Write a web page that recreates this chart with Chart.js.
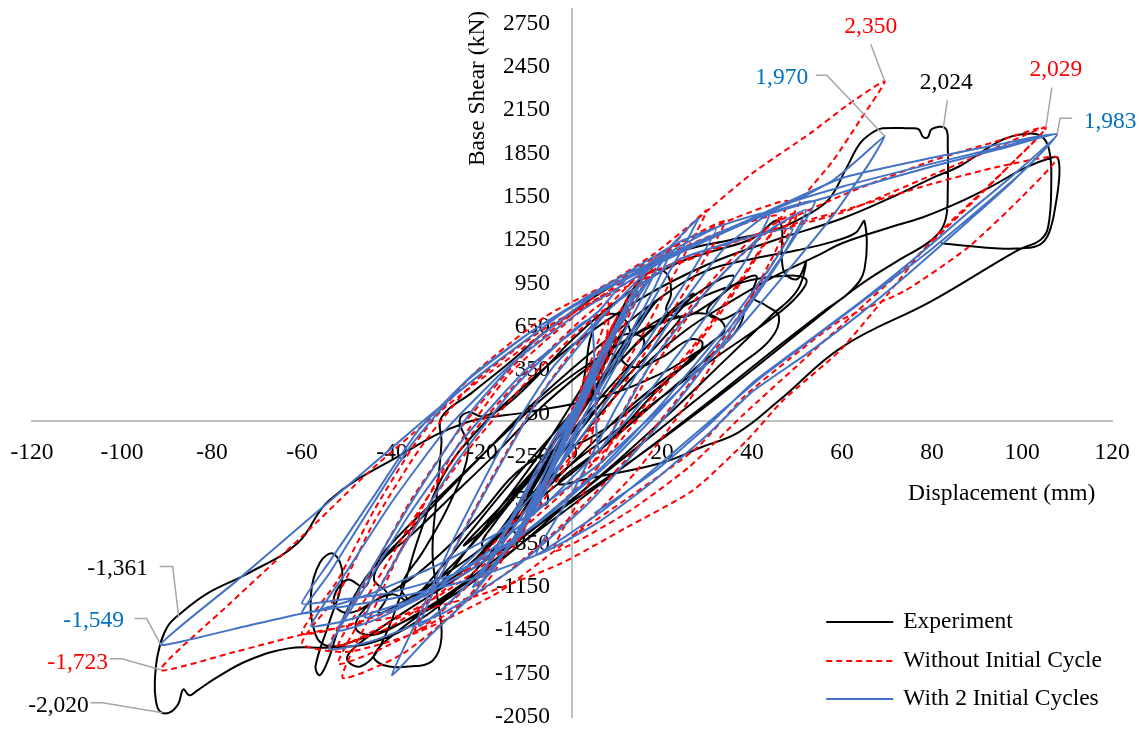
<!DOCTYPE html>
<html>
<head>
<meta charset="utf-8">
<script src="https://cdn.jsdelivr.net/npm/chart.js@4.4.1/dist/chart.umd.min.js"></script>
<style>
  body { margin: 0; background: #fff; }
  canvas { display: block; }
</style>
</head>
<body>
<canvas id="myChart" width="1139" height="733"></canvas>
<script>
// tick values
const xTicks = [-120, -100, -80, -60, -40, -20, 0, 20, 40, 60, 80, 100, 120];
const yTicks = [-2050, -1750, -1450, -1150, -850, -550, -250, 50, 350, 650, 950, 1250, 1550, 1850, 2150, 2450, 2750];

const seriesNames = ['Experiment', 'Without Initial Cycle', 'With 2 Initial Cycles'];

// [displacement mm, base shear kN]
const experiment = [
  [0, 0], [2, 140], [5, 330], [7, 430], [6, 380], [2, 120], [-2, -140], [-6, -380], [-8, -480], [-7, -430], [-3, -200],
  [2, 100], [7, 380], [11, 600], [12, 650], [10, 560], [5, 300], [0, 0], [-6, -330], [-12, -640], [-15, -780], [-13, -720], [-7, -430], [-1, -100],
  [-6, -300], [0, -40], [6, 240], [10, 420], [8, 500], [12, 600], [16, 560], [14, 420], [8, 180], [2, -60], [-4, -300], [-10, -560], [-14, -700], [-12, -820], [-16, -900], [-20, -860], [-17, -700], [-10, -420], [-3, -100], [4, 200], [12, 460], [18, 640], [24, 720], [20, 560], [12, 300], [4, 40], [-6, -260], [-16, -600], [-24, -860], [-20, -760], [-12, -480],
  [5, 230], [12, 560], [17, 780], [20, 860], [18, 800], [12, 520], [5, 200], [-2, -120], [-9, -450], [-16, -760], [-21, -940], [-23, -1000], [-20, -930], [-13, -640], [-5, -280],
  [-2, -100], [6, 250], [14, 520], [22, 760], [27, 880], [25, 800], [18, 560], [8, 220], [-4, -220], [-16, -640], [-26, -980], [-33, -1180], [-36, -1250], [-33, -1160], [-25, -860], [-15, -480], [-5, -120],
  [6, 260], [16, 580], [26, 840], [33, 980], [36, 1000], [34, 900], [30, 760], [33, 700], [38, 760], [36, 600], [28, 380], [16, 60], [4, -260], [-8, -560], [-20, -880], [-30, -1100], [-38, -1260], [-43, -1330], [-41, -1200], [-44, -1100], [-42, -960], [-36, -800], [-28, -560], [-18, -260], [-8, 60], [2, 330], [12, 560], [22, 700], [30, 740], [34, 640], [30, 520],
  [18, 200], [4, -120], [-10, -300], [-22, -700], [-34, -1050], [-44, -1250], [-50, -1330], [-53, -1250], [-50, -1100], [-46, -1150], [-44, -1000], [-38, -780], [-28, -480], [-16, -120], [-4, 220], [10, 520], [24, 780], [36, 940], [46, 1000], [52, 980], [50, 860], [44, 700], [32, 440], [18, 120], [4, -200], [-10, -520],
  [-4, -200], [1, 80], [3, 350], [4, 560], [6, 700], [9, 740], [12, 690], [13, 560], [11, 430], [14, 370], [20, 440], [26, 560], [29, 540], [27, 430], [21, 300], [13, 100],
  [4, -170], [-5, -450], [-14, -730], [-22, -980], [-28, -1120], [-31, -1180], [-29, -1120], [-23, -880], [-15, -560], [-7, -220],
  [0, 120], [6, 430], [10, 700], [14, 930], [18, 1040], [21, 1020], [22, 880], [21, 760], [25, 720], [31, 820], [37, 960], [41, 1000], [40, 860], [43, 800], [46, 720], [44, 560], [37, 380], [27, 130], [15, -170], [3, -470],
  [-9, -760], [-20, -1030], [-30, -1250], [-38, -1400], [-44, -1480], [-48, -1440], [-46, -1300], [-40, -1200], [-36, -1260], [-38, -1150], [-33, -900], [-27, -560], [-23, -200], [-25, 0], [-23, 60], [-20, 30], [-15, 100],
  [-8, 300], [0, 560], [8, 780], [16, 960], [24, 1100], [32, 1180], [40, 1260], [46, 1380], [47, 1040], [50, 980], [52, 1100], [50, 900], [44, 720], [34, 420], [22, 60], [10, -280], [-2, -600], [-14, -920], [-26, -1200], [-38, -1400], [-48, -1520], [-54, -1560], [-57, -1480], [-58, -1200], [-56, -980], [-53, -920], [-51, -1080], [-54, -1400], [-57, -1700], [-56, -1760], [-54, -1640], [-52, -1450], [-49, -1250], [-45, -1050], [-38, -820], [-30, -560], [-20, -240], [-10, 80], [0, 360], [10, 620], [20, 860], [30, 1040], [40, 1120], [50, 1180], [58, 1240], [63, 1300], [65, 1380], [65, 1050], [62, 900], [56, 760], [46, 520], [34, 220], [20, -120], [8, -400], [-4, -680], [-16, -960], [-28, -1220], [-38, -1440], [-44, -1620], [-42, -1690], [-36, -1700], [-31, -1660], [-29, -1500], [-30, -1200], [-31, -900], [-30, -500], [-29, -150], [-29, 24],
  [-22, 200], [-14, 400], [-5, 640], [5, 860], [15, 1040], [25, 1180], [35, 1250], [45, 1320], [52, 1420], [57, 1530], [61, 1750], [64, 1920], [67, 2000], [69, 2024], [75, 2024], [77, 2018], [78, 1965], [79, 1960], [80, 2020], [83, 2024], [83.5, 1900], [83.5, 1600], [83.2, 1420], [82, 1320], [79, 1230], [72, 1100], [64, 940], [54, 700], [42, 400], [28, 60], [14, -260], [0, -560], [-14, -860], [-28, -1140], [-40, -1380], [-48, -1560], [-50, -1650], [-47, -1700], [-43, -1580],
  [-38, -1200], [-34, -800], [-29, -400], [-22, -100], [-12, 200], [0, 520], [15, 840], [30, 1080], [45, 1250], [60, 1400], [72, 1560], [80, 1680], [86, 1760], [92, 1880], [96, 1950], [100, 1983], [104, 1975], [106, 1880], [106.5, 1640], [105.8, 1340], [104, 1250], [99, 1180], [80, 830], [60, 510], [46, 140], [37, -80], [29, -180], [20, -290], [5, -390], [-3, -430],
  [8, -150], [18, 180], [26, 420], [30, 520], [28, 480], [20, 330], [6, 160], [-10, 60], [-24, -17], [-39, -253], [-54, -551], [-61, -848], [-72, -1056], [-81, -1194], [-87, -1333], [-90, -1430], [-92, -1610], [-92.7, -1800], [-92.5, -1930], [-91.6, -2010], [-89.5, -2020], [-87.5, -1960], [-86.4, -1860], [-85, -1900], [-83.3, -1867], [-79, -1777], [-72, -1659], [-63, -1575], [-54, -1569], [-45, -1540], [-35, -1400], [-25, -1150],
  [-15, -800], [-5, -400], [5, 0], [15, 350], [25, 620], [35, 820], [45, 1000], [55, 1150], [60, 1229], [70.7, 1340], [78, 1409], [85.6, 1506], [92.9, 1617], [101, 1755], [106.9, 1824], [108, 1817], [108.3, 1700], [107.5, 1500], [106, 1300], [104, 1220], [100, 1194], [94, 1194], [88, 1210], [82, 1229]
];

const withoutCycle = [
  [0, 0], [3, 260], [5, 420], [3, 280], [-1, -80], [-4, -320], [-6, -460], [-3, -240],
  [3, 200], [7, 460], [10, 640], [7, 440], [2, 60], [-3, -240], [-7, -520], [-10, -700], [-7, -480], [-2, -120], [3, 220], [8, 520], [11, 700], [8, 500], [2, 100], [-4, -280], [-8, -560], [-11, -740], [-7, -500], [-1, -60],
  [4, 300], [8, 560], [6, 440], [1, 40], [-4, -300], [-8, -560], [-6, -420], [0, -20], [4, 280], [9, 620], [12, 780], [8, 520], [2, 80], [-4, -320], [-9, -640], [-12, -820], [-8, -560], [-2, -160],
  [2, 140], [7, 520], [10, 720], [7, 500], [0, 0], [-6, -440], [-11, -780], [-13, -880], [-9, -620], [-2, -140],
  [6, 420], [13, 860], [17, 1060], [13, 800], [4, 200], [-5, -380], [-13, -840], [-19, -1120], [-23, -1240], [-17, -920], [-8, -380],
  [0, 80], [7, 540], [14, 940], [19, 1140], [15, 880], [6, 300], [-7, -460], [-19, -1000], [-29, -1320], [-35, -1460], [-29, -1060], [-19, -460], [-7, 180], [6, 720], [18, 1100], [28, 1300], [34, 1380], [28, 1040], [16, 460], [2, -160], [-14, -740], [-28, -1160], [-40, -1420], [-48, -1520], [-54, -1560], [-46, -1120], [-36, -560], [-24, -20], [-10, 480], [6, 880], [22, 1200], [36, 1400], [48, 1520], [42, 1180], [32, 700], [18, 140], [4, -380], [-12, -820], [-28, -1180], [-42, -1420], [-52, -1560], [-44, -1140], [-34, -620], [-22, -80], [-8, 400], [8, 820],
  [4, -300], [16, 320], [28, 860], [40, 1260], [50, 1440], [44, 1060], [32, 500], [18, -60], [2, -600], [-14, -1040], [-30, -1380], [-44, -1600], [-52, -1680], [-44, -1220], [-34, -680], [-22, -160], [-8, 340], [8, 780],
  [2, 220], [12, 760], [22, 1200], [30, 1460], [25, 1150], [15, 560], [2, -160], [-12, -800], [-26, -1320], [-38, -1620], [-51, -1778],
  [-44, -1300], [-36, -760], [-26, -200], [-14, 320], [2, 760], [18, 1100], [34, 1320], [46, 1420],
  [40, 1100], [30, 640], [16, 100], [2, -380], [-16, -880], [-32, -1200], [-46, -1380], [-60, -1472],
  [-52, -1100], [-44, -620], [-34, -120], [-22, 320], [-6, 720], [8, 950], [18, 1150], [28, 1400], [40, 1712], [53, 1991], [61, 2180], [69.5, 2350],
  [64, 2080], [58, 1800], [51, 1530], [44, 1100], [36, 640], [26, 140], [14, -360], [0, -800], [-16, -1180], [-34, -1460], [-50, -1600], [-60, -1541],
  [-52, -1200], [-44, -700], [-34, -200], [-22, 260], [-6, 640], [14, 980], [34, 1220], [59.6, 1437], [80, 1700], [95, 1900], [105.3, 2029],
  [97, 1760], [86, 1420], [74, 1060], [62, 720], [50, 380], [38, 40], [26, -320], [12, -640], [-4, -900], [4, -420], [16, 260], [30, 900], [44, 1320], [60, 1560], [80, 1800], [95, 1940], [105.3, 2029],
  [95, 1700], [80, 1250], [70, 870], [59.6, 488], [46.9, 142], [38.9, -135], [26.9, -481], [12.2, -737], [-2.7, -991], [-20, -1200], [-40, -1360], [-60, -1480], [-75, -1600], [-91.4, -1723],
  [-76, -1264], [-60, -800], [-45, -350], [-32, 0], [-18, 340], [0, 740], [20, 1040], [40, 1280], [59.6, 1450], [80, 1640], [95, 1760], [107.8, 1824],
  [100, 1550], [88, 1200], [74, 900], [59.6, 694], [48, 420], [38, 160], [28, -180], [14, -500], [0, -800]
];

const withCycles = [
  [0, 0], [3, 240], [5, 400], [3, 260], [-1, -60], [-4, -300], [-6, -420], [-3, -200],
  [3, 180], [8, 540], [12, 780], [9, 560], [2, 80], [-4, -320], [-9, -640], [-13, -860], [-9, -560], [-2, -80], [6, 440], [14, 860], [18, 1000], [12, 640], [2, -20], [-8, -600], [-16, -940], [-20, -1080], [-14, -700], [-4, -120],
  [2, 150], [6, 420], [4, 330], [-2, -120], [-7, -480], [-5, -350], [1, 60], [5, 350], [8, 560], [5, 380], [-1, -60], [-6, -420], [-9, -600], [-6, -400],
  [2, 120], [7, 480], [10, 680], [7, 480], [1, 40], [-5, -380], [-10, -700], [-12, -800], [-8, -560], [-2, -120],
  [5, 360], [12, 800], [16, 1000], [12, 760], [4, 220], [-4, -300], [-12, -760], [-18, -1050], [-22, -1150], [-17, -900], [-8, -380],
  [0, 60], [8, 520], [16, 920], [22, 1180], [18, 900], [8, 320], [-6, -420], [-18, -960], [-28, -1280], [-34, -1420], [-28, -1000], [-18, -420], [-6, 220], [8, 760], [20, 1130], [32, 1330], [26, 1000], [14, 420], [0, -200], [-16, -760], [-30, -1160], [-44, -1380], [-52, -1450], [-44, -1000], [-34, -480], [-22, 80], [-8, 560], [8, 940], [24, 1240], [36, 1380], [44, 1440], [38, 1080], [26, 560], [12, 0], [-4, -520], [-20, -940], [-36, -1240], [-50, -1380], [-58, -1420], [-50, -1040], [-40, -560], [-28, -60], [-14, 380], [2, 760], [20, 1100], [36, 1340], [46, 1460], [54, 1520], [48, 1200], [38, 760], [24, 220], [8, -300], [-8, -720], [-24, -1060], [-38, -1280], [-46, -1360], [-38, -900], [-26, -300], [-12, 260], [4, 700],
  [6, -200], [18, 420], [30, 900], [42, 1280], [52, 1460], [46, 1100], [34, 560], [20, 0], [4, -560], [-12, -1000], [-28, -1320], [-44, -1520], [-54, -1580], [-46, -1150], [-36, -640], [-24, -120], [-10, 360], [6, 760],
  [12, 980], [20, 1150], [28, 1400], [24, 1160], [14, 620], [2, -60], [-10, -700], [-22, -1200], [-32, -1500], [-40, -1760],
  [-34, -1350], [-26, -800], [-16, -200], [-4, 380], [10, 820], [24, 1120], [38, 1260], [49, 1332],
  [44, 1060], [34, 640], [20, 120], [6, -340], [-10, -760], [-26, -1060], [-42, -1200], [-52, -1240], [-60, -1264],
  [-54, -980], [-44, -520], [-34, -60], [-22, 320], [-8, 640], [10, 960], [28, 1230], [42, 1420], [50, 1530], [58, 1664], [64, 1820], [69.5, 1970],
  [66, 1780], [58, 1420], [48, 1040], [36, 600], [22, 160], [6, -300], [-12, -700], [-30, -1000], [-45, -1200], [-60, -1333],
  [-54, -1060], [-46, -660], [-36, -180], [-24, 260], [-8, 640], [10, 980], [28, 1240], [40, 1400], [60, 1680], [80, 1820], [96, 1920], [107.8, 1983],
  [98, 1660], [88, 1380], [76, 1050], [64, 740], [52, 460], [40, 200], [30, -100], [18, -420], [6, -700], [-8, -930],
  [0, -500], [10, 100], [22, 700], [34, 1200], [46, 1480], [60, 1620], [80, 1780], [96, 1900], [107.8, 1983],
  [100, 1720], [90, 1450], [78, 1140], [66, 860], [54, 580], [42, 300], [30, -20], [18, -340], [6, -640], [-8, -930], [-24, -1110], [-40, -1230], [-60, -1333], [-75, -1440], [-91.4, -1549],
  [-75, -1120], [-60, -720], [-45, -320], [-33, 0], [-20, 330], [-8, 610], [0, 790], [12, 980], [27, 1205], [42, 1413], [57, 1551], [64, 1620], [80, 1760], [95, 1880], [107.8, 1983],
  [98, 1700], [88, 1440], [76, 1120], [64, 820], [52, 540], [40, 260], [30, -40], [18, -360], [5, -640]
];

// labelled peaks: text, value and which series (0 exp, 1 without, 2 with)
const peakText = ['2,350', '1,970', '2,024', '2,029', '1,983', '-1,361', '-1,549', '-1,723', '-2,020'];
const peakX = [69.5, 69.5, 82.5, 105.3, 107.8, -87.4, -91.4, -91.4, -91];
const peakY = [2350, 1970, 2024, 2029, 1983, -1361, -1549, -1723, -2020];
const peakSeries = [1, 2, 0, 1, 2, 0, 2, 1, 0];

const FONT = "'Liberation Serif', 'Times New Roman', serif";
const lineColors = ['#000000', '#ff0000', '#4472c4'];
const labelColors = ['#000000', '#ff0000', '#0070c0'];
const axisColor = '#bfbfbf';

function toXY(arr) {
    return arr.map(p => ({ x: p[0], y: p[1] }));
}

// pixel offsets of label text and leader line bends, from the labelled point
const callouts = [
    { t: [-14, -54], p: [[-14, -37]] },
    { t: [-103, -58], p: [[-69, -61], [-58, -61]] },
    { t: [3, -46], p: [[4, -28]] },
    { t: [10, -58], p: [[6, -40]] },
    { t: [53, -12], p: [[15, -16], [3, -16]] },
    { t: [-61, -49], p: [[-19, -51], [-6, -51]] },
    { t: [-67, -24], p: [[-26, -26], [-14, -26]] },
    { t: [-83, -7], p: [[-51, -11], [-39, -11]] },
    { t: [-104, -7], p: [[-72, -10], [-60, -10]] }
];

const extras = {
    id: 'extras',
    afterDraw(chart) {
        const ctx = chart.ctx;
        const xs = chart.scales.x;
        const ys = chart.scales.y;
        ctx.save();
        ctx.font = '23.5px ' + FONT;
        ctx.textBaseline = 'middle';

        // leader lines + peak labels
        peakText.forEach((txt, i) => {
            const px = xs.getPixelForValue(peakX[i]);
            const py = ys.getPixelForValue(peakY[i]);
            const c = callouts[i];
            ctx.strokeStyle = '#a6a6a6';
            ctx.lineWidth = 1.5;
            ctx.beginPath();
            ctx.moveTo(px + c.p[0][0], py + c.p[0][1]);
            for (let k = 1; k < c.p.length; k++) ctx.lineTo(px + c.p[k][0], py + c.p[k][1]);
            ctx.lineTo(px, py);
            ctx.stroke();
            ctx.fillStyle = labelColors[peakSeries[i]];
            ctx.textAlign = 'center';
            ctx.fillText(txt, px + c.t[0], py + c.t[1]);
        });

        // axis titles
        const x0 = xs.getPixelForValue(0);
        const y0 = ys.getPixelForValue(0);
        ctx.fillStyle = '#000';
        ctx.textAlign = 'center';
        ctx.fillText('Displacement (mm)', xs.getPixelForValue(95.5), y0 + 73);
        ctx.save();
        ctx.translate(x0 - 94, ys.getPixelForValue(2300));
        ctx.rotate(-Math.PI / 2);
        ctx.fillText('Base Shear (kN)', 0, 0);
        ctx.restore();

        // legend
        const lx = xs.getPixelForValue(56.5);
        const ly = [622, 661, 699];
        chart.data.datasets.forEach((ds, i) => {
            ctx.strokeStyle = ds.borderColor;
            ctx.lineWidth = 2;
            ctx.setLineDash(ds.borderDash || []);
            ctx.beginPath();
            ctx.moveTo(lx, ly[i]);
            ctx.lineTo(lx + 67, ly[i]);
            ctx.stroke();
            ctx.setLineDash([]);
            ctx.fillStyle = '#000';
            ctx.textAlign = 'left';
            ctx.fillText(ds.label, lx + 77, ly[i]);
        });
        ctx.restore();
    }
};

// axes sit inside the plot, so drop the edge padding the ticks would ask for
function noEdgePadding(s) {
    s.paddingTop = 0;
    s.paddingBottom = 0;
    s.paddingLeft = 0;
    s.paddingRight = 0;
}

new Chart(document.getElementById('myChart'), {
    type: 'scatter',
    data: {
        datasets: [
            {
                label: seriesNames[0],
                data: toXY(experiment),
                borderColor: lineColors[0],
                borderWidth: 2,
                tension: 0.4,
                order: 3
            },
            {
                label: seriesNames[1],
                data: toXY(withoutCycle),
                borderColor: lineColors[1],
                borderWidth: 2,
                borderDash: [6, 4],
                tension: 0.2,
                order: 2
            },
            {
                label: seriesNames[2],
                data: toXY(withCycles),
                borderColor: lineColors[2],
                borderWidth: 2,
                tension: 0.15,
                order: 1
            }
        ].map(ds => Object.assign(ds, { showLine: true, pointRadius: 0, fill: false }))
    },
    options: {
        responsive: false,
        animation: false,
        layout: { padding: { left: 32, right: 27, top: 9, bottom: 16 } },
        plugins: {
            legend: { display: false },
            tooltip: { enabled: false }
        },
        scales: {
            x: {
                type: 'linear',
                position: { y: 0 },
                min: -120,
                max: 120,
                afterBuildTicks: s => { s.ticks = xTicks.map(v => ({ value: v })); },
                afterFit: noEdgePadding,
                ticks: { autoSkip: false, maxRotation: 0, padding: 18, color: '#000', font: { family: FONT, size: 23.5 }, callback: v => String(v) },
                grid: { display: false, drawTicks: false },
                border: { color: axisColor, width: 2 }
            },
            // tick labels, set a little left of the zero line
            y: {
                type: 'linear',
                position: { x: -4.9 },
                min: -2050,
                max: 2850,
                afterBuildTicks: s => { s.ticks = yTicks.map(v => ({ value: v })); },
                afterFit: noEdgePadding,
                ticks: { autoSkip: false, padding: 0, color: '#000', font: { family: FONT, size: 23.5 }, callback: v => String(v) },
                grid: { display: false, drawTicks: false },
                border: { display: false }
            },
            // the vertical axis line itself at x = 0
            yLine: {
                type: 'linear',
                axis: 'y',
                position: { x: 0 },
                min: -2050,
                max: 2850,
                afterFit: noEdgePadding,
                ticks: { display: false },
                grid: { display: false, drawTicks: false },
                border: { color: axisColor, width: 2 }
            }
        }
    },
    plugins: [extras]
});
</script>
</body>
</html>
